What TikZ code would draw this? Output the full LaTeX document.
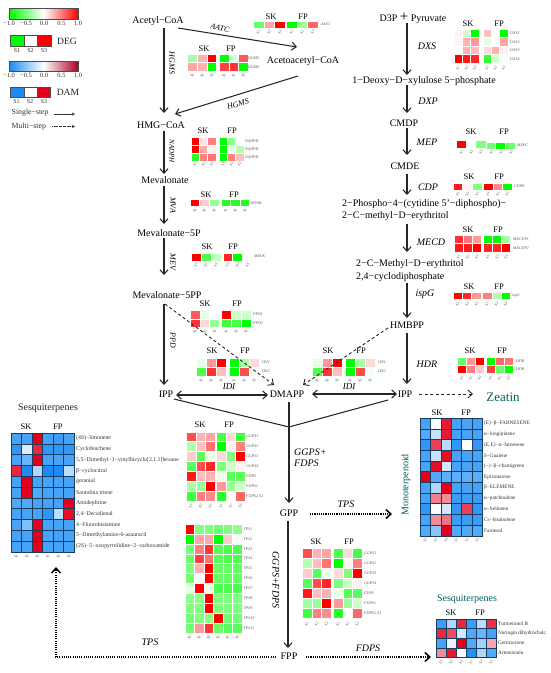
\documentclass[tikz,border=0pt]{standalone}
\usepackage{fontspec}
\setmainfont{Liberation Serif}
\usetikzlibrary{arrows.meta,calc}
\definecolor{degneg}{RGB}{0,255,0}
\definecolor{degpos}{RGB}{255,0,0}
\definecolor{damneg}{RGB}{25,140,245}
\definecolor{dampos}{RGB}{228,0,28}
\definecolor{damend}{RGB}{170,0,35}
\definecolor{tealtext}{RGB}{0,95,95}
\definecolor{griddark}{RGB}{25,60,95}
\newcommand\fs[1]{\fontsize{#1}{#1}\selectfont}
\tikzset{
  metab/.style={inner sep=0,font=\fs{10},text height=7,text depth=.4},
  metabl/.style={inner sep=0,font=\fontsize{10}{12.6}\selectfont,align=left,anchor=west},
  enz/.style={inner sep=0,font=\fs{#1}\itshape},
  enz/.default=10,
  arr/.style={-{Straight Barb[length=4.5pt,width=8pt]},line width=1.05pt,black!85},
  plainline/.style={line width=1.05pt,black!85},
  botharr/.style={{Straight Barb[length=4.5pt,width=8pt]}-{Straight Barb[length=4.5pt,width=8pt]},line width=1.05pt,black!85},
  dasharr/.style={arr,line width=.9pt,dash pattern=on 3pt off 2.5pt},
  dotarr/.style={-{Straight Barb[length=5pt,width=9pt]},line width=1.5pt,black,dash pattern=on 1.1pt off 1.1pt},
  hlabel/.style={inner sep=0,font=\fs{8.5}},
  slab/.style={inner sep=0,font=\fs{3.6},rotate=60,black!70},
  gene/.style={inner sep=0,anchor=west,font=\fs{4}\itshape,black!65},
  cmpd/.style={inner sep=0,anchor=west,font=\fs{#1},black!80},
  cmpd/.default=5.3,
  degcell/.style={draw=white,line width=.25pt},
  damcell/.style={draw=griddark,line width=.35pt},
  legtxt/.style={inner sep=0,font=\fs{6.5},black!80},
  stepnote/.style={inner sep=0,anchor=west,font=\fs{7.8},black!80}
}
% map x y cw ch gap rows
\newcommand\hm[7]{%
  \foreach \hmrow [count=\hmj from 0] in {#7}{%
    \foreach \hmv [count=\hmi from 0] in \hmrow {%
      \pgfmathsetmacro\hmcx{#2+\hmi*#4+(\hmi>2)*#6}%
      \pgfmathsetmacro\hmcy{#3+\hmj*#5}%
      \pgfmathtruncatemacro\hmp{abs(\hmv)}%
      \ifnum\hmv<0 \colorlet{hmcc}{#1neg!\hmp!white}\else\colorlet{hmcc}{#1pos!\hmp!white}\fi
      \path[#1cell,fill=hmcc] (\hmcx,\hmcy) rectangle ++(#4,#5);
    }%
  }%
}
% id x cw gap sy
\newcommand\hmS[5]{%
  \foreach \hmi/\hmt in {0/S1,1/S2,2/S3,3/S1,4/S2,5/S3}{%
    \pgfmathsetmacro\hmcx{#2+(\hmi+.5)*#3+(\hmi>2)*#4}%
    \node[slab,name=#1s\hmi] at (\hmcx,#5) {\hmt};
  }%
}
% id xSK xFP y
\newcommand\hmT[4]{%
  \node[hlabel,name=#1sk] at (#2,#4) {SK};
  \node[hlabel,name=#1fp] at (#3,#4) {FP};
}
% id style x y ch list
\newcommand\hmG[6]{%
  \foreach \hmg [count=\hmj from 0] in {#6}{%
    \pgfmathsetmacro\hmcy{#4+(\hmj+.5)*#5}%
    \node[#2,name=#1g\hmj] at (#3,\hmcy) {\hmg};
  }%
}
% [style] a shift b shift
\newcommand\conn[5][arr]{\draw[#1] ([shift={(#3)}]#2) -- ([shift={(#5)}]#4);}
\begin{document}
\begin{tikzpicture}[x=1pt,y=-1pt]
\useasboundingbox (0,0) rectangle (550,673);
\fill[white] (0,0) rectangle (550,673);

% ---------- legend
\shade[left color=degneg,right color=degpos,middle color=white] (9,8.5) rectangle (78,19);
\draw[black!70,line width=.5pt] (9,8.5) rectangle (78,19);
\foreach \lx/\lt/\ln in {9/−1.0/a,26/−0.5/b,44/0.0/c,61.5/0.5/d,78/1.0/e}
  \node[legtxt,name=lega\ln] at (\lx,23.5) {\lt};
\fill[degneg] (10,35.5) rectangle (24,46);
\fill[white] (24,35.5) rectangle (37.5,46);
\fill[degpos] (37.5,35.5) rectangle (51,46);
\draw[black!70,line width=.5pt] (10,35.5) rectangle (51,46) (24,35.5) -- (24,46) (37.5,35.5) -- (37.5,46);
\foreach \lx/\lt/\ln in {17/S1/a,30.5/S2/b,44/S3/c}
  \node[inner sep=0,font=\fs{6},black!80,name=legb\ln] at (\lx,50.5) {\lt};
\node[inner sep=0,font=\fs{9.6},black!85,name=legdeg] at (67,41) {DEG};

\shade[left color=damneg,right color=damend,middle color=white] (9,61.5) rectangle (78,71.5);
\draw[black!70,line width=.5pt] (9,61.5) rectangle (78,71.5);
\foreach \lx/\lt/\ln in {9/−1.0/a,26/−0.5/b,44/0.0/c,61.5/0.5/d,78/1.0/e}
  \node[legtxt,name=legc\ln] at (\lx,75.5) {\lt};
\fill[damneg] (10,87) rectangle (24,97);
\fill[white] (24,87) rectangle (37,97);
\fill[dampos] (37,87) rectangle (50.5,97);
\draw[black!70,line width=.5pt] (10,87) rectangle (50.5,97) (24,87) -- (24,97) (37,87) -- (37,97);
\foreach \lx/\lt/\ln in {16.5/S1/a,30/S2/b,44/S3/c}
  \node[inner sep=0,font=\fs{6},black!80,name=legd\ln] at (\lx,101.5) {\lt};
\node[inner sep=0,font=\fs{9.6},black!85,name=legdam] at (68,92.5) {DAM};
\node[stepnote,name=legsingle] at (11.5,113) {Single−step};
\node[stepnote,name=legmulti] at (11.5,126.5) {Multi−step};
\coordinate (legsingleend) at (75,114);
\coordinate (legmultiend) at (75,126.5);
\draw[-{Stealth[length=3pt,width=3pt]},line width=.5pt,black!80] ([shift={(5,1)}]legsingle.east) -- (legsingleend);
\draw[-{Stealth[length=3pt,width=3pt]},line width=.5pt,black!80,dash pattern=on .8pt off .5pt] ([shift={(6,0)}]legmulti.east) -- (legmultiend);

% ---------- metabolites
\node[metab,name=acetyl] at (158,20) {Acetyl−CoA};
\node[metab,name=acetoa] at (303,60) {Acetoacetyl−CoA};
\node[metab,name=hmg] at (161,125) {HMG−CoA};
\node[metab,name=meva] at (165,180) {Mevalonate};
\node[metab,name=mevp] at (169,233) {Mevalonate−5P};
\node[metab,name=mevpp] at (167,295) {Mevalonate−5PP};
\node[metab,name=ipp] at (166,394) {IPP};
\node[metab,name=dmapp] at (287,394) {DMAPP};
\node[metab,name=ippr] at (405,394) {IPP};
\node[metab,name=hmbpp] at (407,325) {HMBPP};
\node[metabl,name=cmeth] at (356,270.5) {2−C−Methyl−D−erythritol\\2,4−cyclodiphosphate};
\node[metabl,name=phos] at (342,210) {2−Phospho−4−(cytidine 5'−diphospho)−\\2−C−methyl−D−erythritol};
\node[metab,name=cmde] at (405,166) {CMDE};
\node[metab,name=cmdp] at (404,123) {CMDP};
\node[metab,name=deoxy] at (424,80) {1−Deoxy−D−xylulose 5−phosphate};
\node[metab,name=d3p] at (413,18) {D3P {\fs{15}+} Pyruvate};
\node[metab,name=gpp] at (289,513) {GPP};
\node[metab,name=fpp] at (289,656) {FPP};
\node[inner sep=0,font=\fs{13},text=tealtext,name=zeatin] at (503,397) {Zeatin};
\node[inner sep=0,font=\fs{10},text=tealtext,rotate=90,name=monot] at (406,485) {Monoterpenoid};
\node[inner sep=0,font=\fs{10},black!85,name=sesql] at (48,408) {Sesquiterpenes};
\node[inner sep=0,font=\fs{10},text=tealtext,name=sesqr] at (467,599) {Sesquiterpenes};
\coordinate (junc) at (289,427);
\coordinate (tipmono) at (392,514);
\coordinate (tipsesqr) at (431,657);
\coordinate (tipsesql) at (56,567);

% ---------- connectors
\conn{acetyl.center}{6,8}{hmg.center}{3,-12}
\conn{acetyl.center}{20,8}{acetoa.center}{-6,-13}
\conn{acetoa.center}{-5,16}{hmg.center}{14,-11}
\conn{hmg.center}{3,6}{meva.center}{-1,-6}
\conn{meva.center}{-1,6}{mevp.center}{-5,-9}
\conn{mevp.center}{-5,5}{mevpp.center}{-3,-20}
\conn{mevpp.center}{-3,9}{ipp.center}{-2,-9}
\conn[botharr]{ipp.center}{10,1}{dmapp.center}{-19,1}
\conn[botharr]{dmapp.center}{25,0}{ippr.center}{-8,0}
\conn{hmbpp.center}{0,8}{ippr.center}{2,-10}
\conn{cmeth.west}{51,12.5}{hmbpp.center}{0,-7}
\conn{phos.west}{65,14}{cmeth.west}{51,-18.5}
\conn{cmde.center}{2,8}{phos.west}{65,-15}
\conn{cmdp.center}{3,5}{cmde.center}{2,-11}
\conn{deoxy.center}{-17,5}{cmdp.center}{3,-10}
\conn{d3p.center}{-6,5}{deoxy.center}{-17,-5}
\conn[plainline]{ipp.center}{8,5}{junc}{0,0}
\conn[plainline]{ippr.center}{-17,6}{junc}{0,0}
\conn[plainline]{dmapp.center}{2,8}{junc}{0,0}
\conn{junc}{0,0}{gpp.center}{0,-10}
\conn{gpp.center}{-1,8}{fpp.center}{-1,-8}
\conn[dasharr]{ippr.center}{14,0}{zeatin.center}{-30,-3}
\conn[dotarr]{gpp.center}{21,1}{tipmono}{0,0}
\conn[dotarr]{fpp.center}{17,1}{tipsesqr}{0,0}
\draw[dotarr] ([shift={(-13,1)}]fpp.center) -| (tipsesql);

% ---------- enzyme labels
\node[enz=8,rotate=-14,name=eaatc] at (220,28) {AATC};
\node[enz=8,rotate=-90,name=ehgms] at (172,63) {HGMS};
\node[enz=8,rotate=18,name=ehgmsb] at (238,104) {HGMS};
\node[enz=7,rotate=-90,name=enad] at (172,151) {NADPH};
\node[enz=8,rotate=-90,name=emva] at (173,205) {MVA};
\node[enz=8,rotate=-90,name=emev] at (173,262) {MEV};
\node[enz=8,rotate=-90,name=eppd] at (173,340) {PPD};
\node[enz=9,name=eidil] at (229,387) {IDI};
\node[enz=9,name=eidir] at (349,387) {IDI};
\node[enz,name=edxs] at (427,46) {DXS};
\node[enz,name=edxp] at (428,101) {DXP};
\node[enz,name=emep] at (427,142) {MEP};
\node[enz,name=ecdp] at (428,187) {CDP};
\node[enz,name=emecd] at (431,242) {MECD};
\node[enz,name=eispg] at (425,294) {ispG};
\node[enz,name=ehdr] at (427,364) {HDR};
\node[enz,align=left,anchor=west,font=\fontsize{10}{11.5}\selectfont\itshape,name=eggps] at (294,457.5) {GGPS+\\FDPS};
\node[enz,rotate=-90,name=eggpsb] at (276,580) {GGPS+FDPS};
\node[enz,name=etps] at (346,504) {TPS};
\node[enz,name=efdps] at (368,648) {FDPS};
\node[enz,name=etpsl] at (150,642) {TPS};

% ---------- AATC
\hm{deg}{253}{21}{10.7}{7}{1}{{-60,35,100,-100,-40,60}}
\hmT{aatc}{271}{303}{17}
\hmS{aatc}{253}{10.7}{1}{32}
\hmG{aatc}{gene}{320.5}{21}{7}{AATC}
% ---------- HGMS
\hm{deg}{187.5}{54}{9.7}{8.5}{2.5}{{-35,30,100,-100,-15,65},{35,30,-100,75,80,-100}}
\hmT{hgms}{204}{231}{49}
\hmS{hgms}{187.5}{9.7}{2.5}{75.5}
\hmG{hgms}{gene}{248}{54}{8.5}{HGMS,HGMS}
% ---------- NADPH
\hm{deg}{191}{137}{8.3}{8}{3}{{100,10,50,-100,-45,0},{100,35,5,-100,-10,-30},{-85,50,55,-100,50,25}}
\hmT{nad}{203}{232}{131}
\hmS{nad}{191}{8.3}{3}{164}
\hmG{nad}{gene}{245}{137}{8}{NADPH,NADPH,NADPH}
% ---------- MVAK
\hm{deg}{190}{199.5}{9.6}{7}{2}{{100,20,-40,-85,-85,-85}}
\hmT{mvak}{206}{234}{195}
\hmS{mvak}{190}{9.6}{2}{210.5}
\hmG{mvak}{gene}{251}{199.5}{7}{MVAK}
% ---------- MEVK
\hm{deg}{191}{253}{9.9}{8}{2}{{100,-70,-25,85,-100,0}}
\hmT{mevk}{207}{233}{247}
\hmS{mevk}{191}{9.9}{2}{265}
\hmG{mevk}{gene}{254}{252}{8}{MEVK}
% ---------- PPD
\hm{deg}{190}{310}{9.8}{8.7}{2}{{65,-10,0,100,-20,-20},{80,15,-40,-75,-70,-100}}
\hmT{ppd}{205}{237}{304}
\hmS{ppd}{190}{9.8}{2}{331.5}
\hmG{ppd}{gene}{253}{310}{8.7}{PPD1,PPD2}
% ---------- IDI left
\hm{deg}{196}{358}{10}{9}{3}{{-10,40,100,-100,-35,15},{-70,80,25,-100,70,-5}}
\hmT{idil}{212}{245}{351}
\hmS{idil}{196}{10}{3}{380.5}
\hmG{idil}{gene}{262}{358}{9}{IDI1,IDI2}
% ---------- IDI right
\hm{deg}{312}{358}{10}{9}{3}{{-10,40,100,-100,-35,15},{-70,80,25,-100,70,-5}}
\hmT{idir}{328}{361}{351}
\hmS{idir}{312}{10}{3}{380.5}
\hmG{idir}{gene}{378}{358}{9}{IDI1,IDI2}
% dashed connectors run over the heat maps
\conn[dasharr]{mevpp.center}{-2,9}{dmapp.center}{-13,-9}
\conn[dasharr]{hmbpp.center}{-19,3}{dmapp.center}{16,-9}
% ---------- DXS
\hm{deg}{454}{29}{8.3}{8.5}{4}{{5,-20,-100,25,0,-100},{5,30,40,-10,0,35},{0,30,25,15,30,5},{100,90,85,-80,-20,-3}}
\hmT{dxs}{468}{499}{24}
\hmS{dxs}{454}{8.3}{4}{68}
\hmG{dxs}{gene}{510}{29}{8.5}{DXS1,DXS2,DXS3,DXS4}
% ---------- MEPC
\hm{deg}{456.7}{142}{9.7}{7}{0}{{0,0,0,-55,-100,-60}}
\fill[degpos] (456.7,141) rectangle ++(9.7,6.5);
\fill[degneg!50!white] (476.1,141) rectangle ++(9.7,6.5);
\hmT{mepc}{471}{504}{132}
\hmS{mepc}{456.7}{9.7}{1}{152}
\hmG{mepc}{gene}{517}{142}{7}{MEPC}
% ---------- CDPK
\hm{deg}{453}{183}{9.6}{7}{1.5}{{90,5,-50,100,45,-100}}
\hmT{cdpk}{469}{499}{177}
\hmS{cdpk}{453}{9.6}{1.5}{194}
\hmG{cdpk}{gene}{514}{183}{7}{CDPK}
% ---------- MECD
\hm{deg}{454}{235}{9.1}{8.5}{2}{{80,55,40,-100,-100,-35},{90,90,100,85,85,100}}
\hmT{mecd}{468}{498}{230}
\hmS{mecd}{454}{9.1}{2}{257}
\hmG{mecd}{gene}{513}{235}{8.5}{MECDP1,MECDP2}
% ---------- ispG
\hm{deg}{453}{292}{9.3}{7}{1.5}{{100,85,40,50,-30,-100}}
\hmT{ispg}{469}{499}{287}
\hmS{ispg}{453}{9.3}{1.5}{304}
\hmG{ispg}{gene}{512}{292}{7}{ispG}
% ---------- HDR
\hm{deg}{457}{357}{9}{8}{2}{{-60,40,100,-100,60,55},{100,50,20,75,-60,-100}}
\hmT{hdr}{470}{502}{351}
\hmS{hdr}{457}{9}{2}{378}
\hmG{hdr}{gene}{516}{357}{8}{HDR,HDR}
% ---------- GGPS upper
\hm{deg}{186}{431.7}{9.7}{9.9}{1}{{70,30,35,-70,15,-75},{-30,25,55,-100,5,50},{20,-65,-8,15,-50,100},{-65,70,85,-50,-20,5},{90,25,30,-8,-65,-65},{-35,-40,100,40,-40,-20},{-75,50,45,-85,0,60}}
\hmT{gga}{200}{229}{425}
\hmS{gga}{186}{9.7}{1}{506}
\hmG{gga}{gene}{246}{431.7}{9.9}{GGPS1,GGPS2,GGPS3,GGPS4,FDPS,FDPS2,FDPS2.X1}
% ---------- GGPS lower
\hm{deg}{302}{548}{9.7}{10}{2}{{70,30,35,-70,15,-75},{-30,25,55,-100,5,50},{20,-65,-8,15,-50,100},{-65,70,85,-50,-20,5},{90,25,30,-8,-65,-65},{-35,-40,100,40,-40,-20},{-75,50,45,-85,0,60}}
\hmT{ggb}{316}{349}{542}
\hmS{ggb}{302}{9.7}{2}{624}
\hmG{ggb}{gene}{364}{548}{10}{GGPS1,GGPS2,GGPS3,GGPS4,FDPS,FDPS2,FDPS2.X1}
% ---------- TPS
\hm{deg}{184.7}{524}{9.5}{9.9}{0}{{100,-50,-50,-55,-50,-45},{-100,35,35,-100,20,-5},{-55,50,80,-65,-70,-70},{-60,75,55,-65,-70,-70},{-50,30,100,-60,-60,-60},{-55,0,100,-60,-60,-60},{-10,100,-8,-70,-70,-70},{-45,-45,100,-50,-50,-50},{-50,-50,100,-50,-50,-50},{-55,-50,-45,100,-55,-55},{-55,40,80,-60,-65,-65}}
\hmS{tps}{184.7}{9.5}{0}{637.5}
\hmG{tps}{gene}{243.5}{524}{9.9}{TPS1,TPS2,TPS3,TPS4,TPS5,TPS6,TPS7,TPS8,TPS9,TPS10,TPS11}
% ---------- Sesquiterpenes left
\hm{dam}{11}{433}{10.5}{10.8}{0}{{-80,-80,100,-80,-85,-80},{-90,-15,85,-90,-90,-90},{-80,-65,100,-80,-80,-80},{85,-100,-35,-100,-100,-30},{-80,100,-80,-80,-80,-80},{-80,100,-75,-80,-80,-80},{-75,-75,-80,-80,-80,100},{-80,-80,-80,-90,-30,95},{-80,-55,100,-80,-80,-80},{-80,-80,100,-80,-80,-80},{-80,-80,100,-80,-80,-80}}
\hmT{sl}{26}{58}{427}
\hmS{sl}{11}{10.5}{0}{556.5}
\hmG{sl}{cmpd=5.8}{76}{433}{10.8}{(4S)−limonene,Cyclofenchene,{5,5−Dimethyl−1−vinylbicyclo[2.1.1]hexane},β−cyclocitral,geranial,Santolina triene,Amidephrine,{2,4−Decadienal},4−Fluorohistamine,5−Dimethylamino-6-azauracil,(2S)−5−oxopyrrolidine−2−carboxamide}
% ---------- Monoterpenoid
\hm{dam}{420}{418}{10.4}{10.7}{0}{{-80,0,90,-80,-80,-80},{-75,-25,90,-80,-80,-80},{-90,75,-30,-90,0,-90},{-80,-25,95,-80,-80,-80},{-80,95,-20,-80,-80,-80},{100,-75,-70,-70,-70,-70},{-80,-35,100,-80,-80,-80},{-80,50,45,-85,-85,-85},{-90,0,-20,-90,75,-90},{-80,45,55,-85,-85,-85},{-75,-50,100,-75,-75,-75}}
\hmT{mo}{437}{466}{413}
\hmS{mo}{420}{10.4}{0}{540}
\hmG{mo}{cmpd}{484}{418}{10.7}{(E)−β−FARNESENE,α−longipinene,{(E,E)−α−farnesene},δ−Guaiene,(−)−β−chamigrene,Epizonarene,β−ELEMENE,α−patchoulene,α−Selinene,Cs−bisabolene,Farnesol}
% ---------- Sesquiterpenes right
\hm{dam}{436}{619}{10}{9.6}{0}{{-85,-35,85,-85,-30,80},{85,70,-20,-75,-65,-80},{-80,-10,100,-75,-40,35},{45,90,0,-95,-35,-75}}
\hmT{sr}{451}{480}{613}
\hmS{sr}{436}{10}{0}{662}
\hmG{sr}{cmpd}{498}{619}{9.6}{Turmeronol B,Naringin dihydrochalc,Germacrone,Artemisinin}
\end{tikzpicture}
\end{document}
